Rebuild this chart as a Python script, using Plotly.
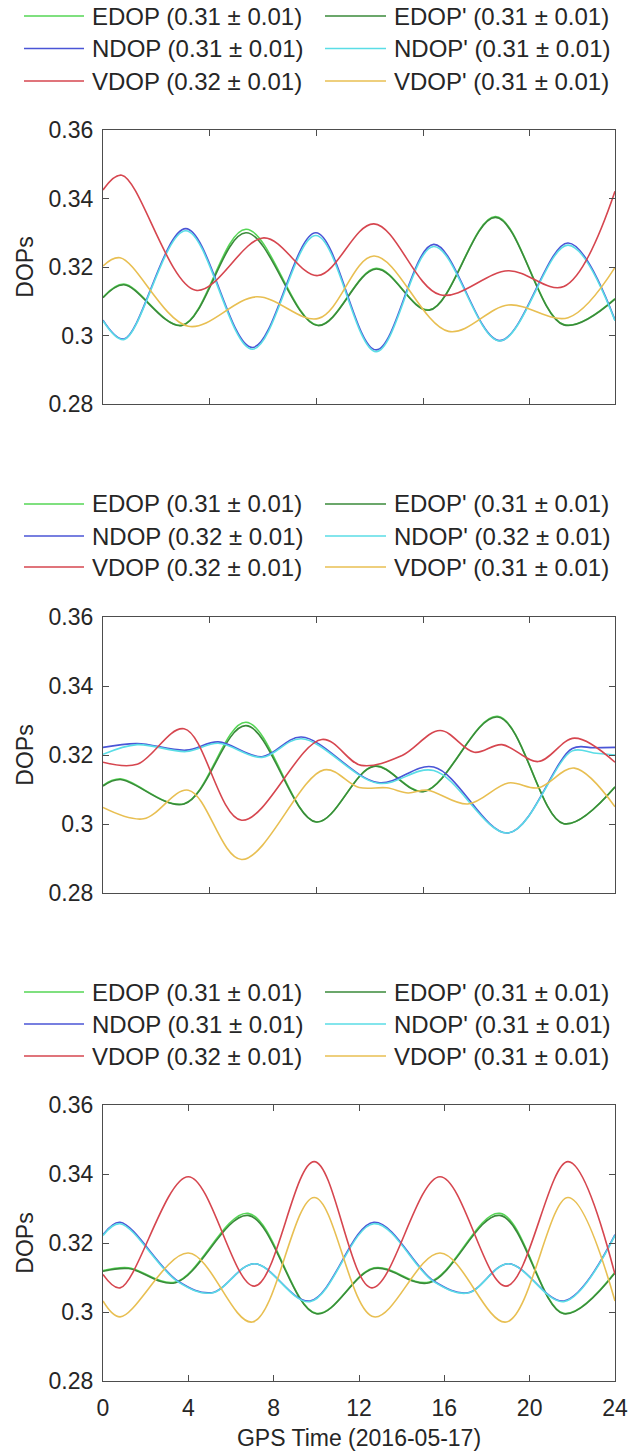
import plotly.graph_objects as go

W, H = 629, 1451
FONT = "Liberation Sans, Arial, sans-serif"
TXT = "#262626"

# ---------------- data ----------------
SERIES = ["EDOP", "EDOP'", "NDOP", "NDOP'", "VDOP", "VDOP'"]
COLORS = ["#55d655", "#3a8a3a", "#4a55d6", "#5adde6", "#d6464f", "#e8bf52"]

P1_MEANS = ["0.31", "0.31", "0.31", "0.31", "0.32", "0.31"]
P2_MEANS = ["0.31", "0.31", "0.32", "0.32", "0.32", "0.31"]
P3_MEANS = ["0.31", "0.31", "0.31", "0.31", "0.32", "0.31"]
STDS = ["0.01", "0.01", "0.01", "0.01", "0.01", "0.01"]

# Panel 1
P1_EDOP_T = [0, 0.98, 3.7, 6.7, 10.07, 12.8, 15.3, 18.4, 21.6, 24]
P1_EDOP_V = [0.3112, 0.3150, 0.3030, 0.3310, 0.3030, 0.3196, 0.3075, 0.3347, 0.3032, 0.3108]
P1_EDOPP_T = [0, 0.98, 3.7, 6.7, 10.07, 12.8, 15.3, 18.4, 21.6, 24]
P1_EDOPP_V = [0.3110, 0.3148, 0.3029, 0.3300, 0.3029, 0.3194, 0.3074, 0.3345, 0.3031, 0.3106]
P1_NDOP_T = [0, 0.98, 3.88, 7.0, 9.98, 12.8, 15.5, 18.6, 21.8, 24]
P1_NDOP_V = [0.3045, 0.2990, 0.3312, 0.2965, 0.3300, 0.2958, 0.3266, 0.2985, 0.3270, 0.3045]
P1_NDOPP_T = [0, 0.98, 3.88, 7.0, 9.98, 12.8, 15.5, 18.6, 21.8, 24]
P1_NDOPP_V = [0.3043, 0.2988, 0.3306, 0.2960, 0.3292, 0.2953, 0.3260, 0.2984, 0.3264, 0.3043]
P1_VDOP_T = [0, 0.88, 4.35, 7.54, 10.07, 12.7, 15.8, 19.0, 21.6, 24]
P1_VDOP_V = [0.3425, 0.3468, 0.3132, 0.3285, 0.3175, 0.3326, 0.3119, 0.3189, 0.3143, 0.3421]
P1_VDOPP_T = [0, 0.8, 4.0, 7.2, 10.1, 12.7, 16.2, 19.0, 21.8, 24]
P1_VDOPP_V = [0.3203, 0.3227, 0.3027, 0.3113, 0.3050, 0.3232, 0.3012, 0.3089, 0.3052, 0.3199]

# Panel 2
P2_EDOP_T = [0, 0.8, 3.8, 6.7, 10.0, 12.7, 15.05, 18.5, 21.6, 24]
P2_EDOP_V = [0.3112, 0.3131, 0.3059, 0.3295, 0.3006, 0.3168, 0.3095, 0.3312, 0.3001, 0.3108]
P2_EDOPP_T = [0, 0.8, 3.8, 6.7, 10.0, 12.7, 15.05, 18.5, 21.6, 24]
P2_EDOPP_V = [0.3110, 0.3129, 0.3058, 0.3285, 0.3006, 0.3167, 0.3094, 0.3310, 0.3001, 0.3107]
P2_NDOP_T = [0, 1.6, 3.9, 5.4, 7.45, 9.3, 12.9, 15.5, 19.0, 22.0, 23.0, 24]
P2_NDOP_V = [0.3222, 0.3233, 0.3214, 0.3238, 0.3195, 0.3252, 0.3120, 0.3165, 0.2974, 0.3219, 0.3221, 0.3222]
P2_NDOPP_T = [0, 1.6, 3.9, 5.4, 7.45, 9.3, 12.9, 15.5, 19.0, 22.0, 23.0, 24]
P2_NDOPP_V = [0.3202, 0.3230, 0.3210, 0.3234, 0.3193, 0.3247, 0.3118, 0.3155, 0.2974, 0.3212, 0.3206, 0.3200]
P2_VDOP_T = [0, 1.6, 3.8, 6.5, 10.26, 12.1, 14.0, 15.8, 17.4, 18.7, 20.4, 22.1, 24]
P2_VDOP_V = [0.3179, 0.3173, 0.3276, 0.3011, 0.3245, 0.3170, 0.3198, 0.3271, 0.3208, 0.3230, 0.3181, 0.3249, 0.3179]
P2_VDOPP_T = [0, 1.9, 4.0, 6.5, 10.36, 12.0, 13.3, 14.3, 15.2, 17.1, 19.0, 20.4, 22.1, 24]
P2_VDOPP_V = [0.3048, 0.3015, 0.3098, 0.2897, 0.3157, 0.3106, 0.3105, 0.3090, 0.3098, 0.3058, 0.3119, 0.3105, 0.3162, 0.3050]

# Panel 3
P3_EDOP_T = [0, 1.2, 3.4, 6.8, 10.0, 12.7, 15.3, 18.6, 21.6, 24]
P3_EDOP_V = [0.3120, 0.3128, 0.3087, 0.3286, 0.2996, 0.3128, 0.3087, 0.3286, 0.2996, 0.3115]
P3_EDOPP_T = [0, 1.2, 3.4, 6.8, 10.0, 12.7, 15.3, 18.6, 21.6, 24]
P3_EDOPP_V = [0.3118, 0.3126, 0.3085, 0.3280, 0.2995, 0.3126, 0.3085, 0.3280, 0.2995, 0.3113]
P3_NDOP_T = [0, 0.8, 3.5, 5.1, 7.1, 9.7, 12.7, 15.5, 17.1, 19.0, 21.6, 24]
P3_NDOP_V = [0.3224, 0.3260, 0.3090, 0.3056, 0.3140, 0.3032, 0.3260, 0.3090, 0.3056, 0.3140, 0.3032, 0.3224]
P3_NDOPP_T = [0, 0.8, 3.5, 5.1, 7.1, 9.7, 12.7, 15.5, 17.1, 19.0, 21.6, 24]
P3_NDOPP_V = [0.3222, 0.3256, 0.3088, 0.3055, 0.3140, 0.3030, 0.3256, 0.3088, 0.3055, 0.3140, 0.3030, 0.3222]
P3_VDOP_T = [0, 0.8, 4.0, 7.1, 9.9, 12.6, 15.8, 18.9, 21.8, 24]
P3_VDOP_V = [0.3109, 0.3070, 0.3392, 0.3075, 0.3436, 0.3070, 0.3392, 0.3075, 0.3436, 0.3109]
P3_VDOPP_T = [0, 0.8, 4.0, 7.0, 9.9, 12.7, 15.8, 18.9, 21.8, 24]
P3_VDOPP_V = [0.3032, 0.2986, 0.3171, 0.2971, 0.3332, 0.2986, 0.3171, 0.2971, 0.3332, 0.3032]

Y_TICKS = [0.28, 0.30, 0.32, 0.34, 0.36]
Y_TICK_TEXT = ["0.28", "0.3", "0.32", "0.34", "0.36"]
X_TICKS_UPPER = [5, 10, 15, 20]
X_TICKS_LOWER = [0, 4, 8, 12, 16, 20, 24]
X_TICK_TEXT_LOWER = ["0", "4", "8", "12", "16", "20", "24"]
Y_TITLE = "DOPs"
X_TITLE = "GPS Time (2016-05-17)"

PANELS = [
    (P1_MEANS, [(P1_EDOP_T, P1_EDOP_V), (P1_EDOPP_T, P1_EDOPP_V), (P1_NDOP_T, P1_NDOP_V),
                (P1_NDOPP_T, P1_NDOPP_V), (P1_VDOP_T, P1_VDOP_V), (P1_VDOPP_T, P1_VDOPP_V)]),
    (P2_MEANS, [(P2_EDOP_T, P2_EDOP_V), (P2_EDOPP_T, P2_EDOPP_V), (P2_NDOP_T, P2_NDOP_V),
                (P2_NDOPP_T, P2_NDOPP_V), (P2_VDOP_T, P2_VDOP_V), (P2_VDOPP_T, P2_VDOPP_V)]),
    (P3_MEANS, [(P3_EDOP_T, P3_EDOP_V), (P3_EDOPP_T, P3_EDOPP_V), (P3_NDOP_T, P3_NDOP_V),
                (P3_NDOPP_T, P3_NDOPP_V), (P3_VDOP_T, P3_VDOP_V), (P3_VDOPP_T, P3_VDOPP_V)]),
]

# ---------------- layout geometry (pixels) ----------------
PLOT_LEFT, PLOT_RIGHT = 103, 615
PANEL_TB = [(130, 404), (617, 893), (1105, 1381)]
LEGEND_ROWS = [(16, 48.5, 81), (504, 536, 567), (992, 1024, 1056)]
LEG_COLS = [(24, 84, 90), (325, 386, 392)]

def px(x):
    return x / W

def py(y):
    return 1 - y / H

fig = go.Figure()
annotations = []
shapes = []

for i, (means, series) in enumerate(PANELS):
    ax = "" if i == 0 else str(i + 1)
    for j, (t, v) in enumerate(series):
        label = f"{SERIES[j]} ({means[j]} \u00b1 {STDS[j]})"
        fig.add_trace(go.Scatter(
            x=t, y=v, mode="lines", name=label, showlegend=False,
            line=dict(color=COLORS[j], width=1.6, shape="spline", smoothing=1.0),
            xaxis="x" + ax, yaxis="y" + ax, hoverinfo="skip"))
        row = j // 2
        col = j % 2
        ly = LEGEND_ROWS[i][row]
        x0, x1, xt = LEG_COLS[col]
        shapes.append(dict(type="line", xref="paper", yref="paper",
                           x0=px(x0), x1=px(x1), y0=py(ly), y1=py(ly),
                           line=dict(color=COLORS[j], width=1.6)))
        annotations.append(dict(text=label, xref="paper", yref="paper",
                                x=px(xt), y=py(ly), xanchor="left", yanchor="middle",
                                showarrow=False, font=dict(family=FONT, size=24, color=TXT)))

    top, bot = PANEL_TB[i]
    lower = (i == 2)
    xa = dict(domain=[px(PLOT_LEFT), px(PLOT_RIGHT)], range=[0, 24], anchor="y" + ax,
              showline=True, mirror="ticks", linecolor="#4d4d4d", linewidth=1.2,
              ticks="inside", ticklen=6, tickcolor="#4d4d4d", tickwidth=1,
              showgrid=False, zeroline=False, automargin=False,
              tickmode="array",
              tickvals=X_TICKS_LOWER if lower else X_TICKS_UPPER,
              ticktext=X_TICK_TEXT_LOWER if lower else None,
              showticklabels=lower, ticklabelstandoff=6,
              tickfont=dict(family=FONT, size=23, color=TXT))
    if lower:
        xa["title"] = dict(text=X_TITLE, font=dict(family=FONT, size=23, color=TXT))
    ya = dict(domain=[py(bot), py(top)], range=[0.28, 0.36], anchor="x" + ax,
              showline=True, mirror="ticks", linecolor="#4d4d4d", linewidth=1.2,
              ticks="inside", ticklen=6, tickcolor="#4d4d4d", tickwidth=1,
              showgrid=False, zeroline=False, automargin=False,
              tickmode="array", tickvals=Y_TICKS, ticktext=Y_TICK_TEXT,
              ticklabelstandoff=4,
              tickfont=dict(family=FONT, size=23, color=TXT),
              title=dict(text=Y_TITLE, font=dict(family=FONT, size=23, color=TXT), standoff=8))
    fig.layout["xaxis" + ax] = xa
    fig.layout["yaxis" + ax] = ya

fig.update_layout(
    width=W, height=H,
    margin=dict(l=0, r=0, t=0, b=0),
    paper_bgcolor="white", plot_bgcolor="white",
    showlegend=False,
    annotations=annotations, shapes=shapes,
    font=dict(family=FONT, color=TXT),
)

fig.write_html(
    "out.html",
    config={"displayModeBar": False},
    post_script="document.body.style.margin='0';document.body.style.padding='0';"
                "document.body.style.overflow='hidden';"
                "document.documentElement.style.overflow='hidden';",
)
